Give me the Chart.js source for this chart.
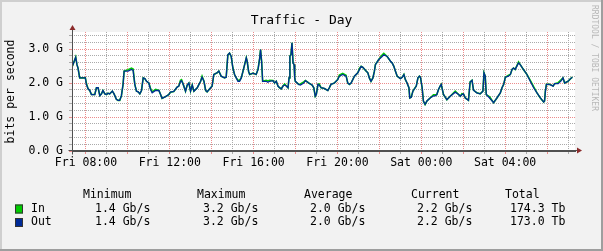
<!DOCTYPE html>
<html lang="en">
<head>
  <meta charset="UTF-8">
  <title>Traffic - Day</title>
  <!-- Chart.js -->
  <script src="https://cdn.jsdelivr.net/npm/chart.js"></script>
  <style>
    body { margin: 0; background: #f2f2f2; }
    canvas { display: block; }
  </style>
</head>
<body>
<canvas id="trafficChart" width="603" height="251"></canvas>

<script>
  // sample times, hours counted from Friday 00:00
  const times = [
    7.35, 7.51, 7.57, 7.62, 7.70, 7.97, 8.02, 8.10, 8.18, 8.26,
    8.42, 8.50, 8.58, 8.66, 8.74, 8.81, 8.90, 8.98, 9.05, 9.13,
    9.26, 9.34, 9.45, 9.53, 9.61, 9.69, 9.77, 9.82, 10.01, 10.17,
    10.25, 10.33, 10.41, 10.49, 10.57, 10.65, 10.73, 10.81, 10.89, 11.00,
    11.08, 11.16, 11.32, 11.48, 11.56, 11.63, 11.80, 11.95, 12.03, 12.19,
    12.35, 12.43, 12.51, 12.56, 12.64, 12.75, 12.83, 12.91, 12.99, 13.07,
    13.15, 13.31, 13.39, 13.47, 13.54, 13.63, 13.71, 13.78, 13.95, 14.02,
    14.10, 14.26, 14.34, 14.45, 14.61, 14.69, 14.77, 14.85, 14.93, 15.01,
    15.09, 15.17, 15.25, 15.33, 15.41, 15.49, 15.57, 15.65, 15.69, 15.76,
    15.81, 15.97, 16.12, 16.21, 16.29, 16.33, 16.38, 16.43, 16.60, 16.68,
    16.76, 16.92, 17.00, 17.08, 17.16, 17.24, 17.32, 17.40, 17.48, 17.56,
    17.64, 17.69, 17.73, 17.78, 17.83, 17.88, 17.93, 17.96, 17.99, 18.15,
    18.23, 18.39, 18.47, 18.63, 18.79, 18.87, 18.94, 18.99, 19.07, 19.13,
    19.22, 19.37, 19.54, 19.61, 19.69, 19.85, 20.01, 20.09, 20.25, 20.41,
    20.49, 20.57, 20.65, 20.81, 20.97, 21.05, 21.13, 21.21, 21.37, 21.45,
    21.52, 21.60, 21.69, 21.76, 21.81, 21.97, 22.13, 22.21, 22.37, 22.53,
    22.61, 22.69, 22.77, 22.85, 23.00, 23.09, 23.17, 23.24, 23.32, 23.41,
    23.45, 23.52, 23.60, 23.76, 23.84, 23.91, 23.96, 24.04, 24.10, 24.18,
    24.27, 24.42, 24.58, 24.66, 24.74, 24.82, 24.90, 24.95, 25.06, 25.22,
    25.38, 25.62, 25.78, 25.86, 25.94, 26.01, 26.10, 26.25, 26.33, 26.42,
    26.49, 26.65, 26.81, 26.94, 26.99, 27.05, 27.10, 27.26, 27.45, 27.61,
    27.77, 27.85, 27.93, 28.01, 28.16, 28.25, 28.33, 28.40, 28.48, 28.64,
    28.72, 28.88, 29.04, 29.20, 29.36, 29.52, 29.68, 29.84, 29.88, 29.92,
    29.97, 30.12, 30.29, 30.36, 30.53, 30.68, 30.76, 30.84, 31.00, 31.16,
    31.21
  ];

  // inbound traffic, Gbit/s
  const inValues = [
    2.49, 2.76, 2.54, 2.44, 2.15, 2.15, 1.99, 1.83, 1.78, 1.66,
    1.66, 1.86, 1.86, 1.63, 1.68, 1.78, 1.68, 1.66, 1.70, 1.68,
    1.76, 1.68, 1.52, 1.49, 1.49, 1.62, 1.96, 2.35, 2.39, 2.44,
    2.41, 1.96, 1.76, 1.74, 1.68, 1.78, 2.15, 2.13, 2.05, 2.00,
    1.84, 1.74, 1.81, 1.78, 1.66, 1.55, 1.60, 1.66, 1.73, 1.75,
    1.88, 1.91, 2.08, 2.10, 1.96, 1.76, 1.94, 2.00, 1.76, 1.94,
    1.76, 1.86, 1.96, 2.05, 2.20, 2.05, 1.78, 1.74, 1.86, 1.91,
    2.25, 2.30, 2.35, 2.20, 2.15, 2.17, 2.83, 2.88, 2.78, 2.44,
    2.25, 2.15, 2.08, 2.08, 2.15, 2.34, 2.54, 2.74, 2.64, 2.34,
    2.25, 2.29, 2.25, 2.40, 2.74, 2.98, 2.64, 2.05, 2.08, 2.06,
    2.08, 2.07, 2.00, 2.05, 1.91, 1.86, 1.83, 1.91, 1.97, 1.91,
    1.86, 2.15, 2.79, 2.83, 3.18, 2.59, 2.54, 2.15, 2.05, 1.96,
    1.97, 2.03, 2.07, 2.00, 1.94, 1.86, 1.61, 1.66, 1.96, 1.97,
    1.86, 1.84, 1.78, 1.86, 1.96, 2.00, 2.10, 2.23, 2.28, 2.23,
    2.00, 1.96, 2.00, 2.20, 2.30, 2.43, 2.49, 2.46, 2.35, 2.30,
    2.15, 2.05, 2.15, 2.34, 2.54, 2.69, 2.82, 2.87, 2.78, 2.64,
    2.59, 2.49, 2.34, 2.20, 2.13, 2.17, 2.25, 2.10, 2.00, 1.86,
    1.56, 1.58, 1.76, 1.91, 2.15, 2.20, 2.17, 1.86, 1.47, 1.37,
    1.47, 1.56, 1.65, 1.65, 1.66, 1.81, 1.91, 1.96, 1.66, 1.51,
    1.61, 1.76, 1.66, 1.61, 1.69, 1.68, 1.56, 1.49, 2.03, 2.08,
    1.79, 1.71, 1.68, 1.76, 2.30, 2.20, 1.66, 1.59, 1.42, 1.56,
    1.71, 1.86, 1.96, 2.17, 2.23, 2.25, 2.40, 2.44, 2.40, 2.62,
    2.54, 2.39, 2.25, 2.08, 1.89, 1.71, 1.56, 1.44, 1.47, 1.76,
    1.96, 1.96, 1.91, 1.98, 2.01, 2.10, 2.15, 2.00, 2.05, 2.15,
    2.17
  ];

  // outbound traffic, Gbit/s
  const outValues = [
    2.49, 2.76, 2.54, 2.44, 2.15, 2.15, 1.96, 1.83, 1.78, 1.66,
    1.66, 1.86, 1.86, 1.63, 1.68, 1.78, 1.68, 1.66, 1.70, 1.68,
    1.76, 1.68, 1.52, 1.49, 1.49, 1.62, 1.96, 2.35, 2.35, 2.40,
    2.37, 1.96, 1.76, 1.74, 1.68, 1.78, 2.15, 2.13, 2.05, 2.00,
    1.81, 1.71, 1.78, 1.78, 1.66, 1.55, 1.60, 1.66, 1.73, 1.75,
    1.88, 1.91, 2.05, 2.07, 1.96, 1.76, 1.94, 2.00, 1.76, 1.94,
    1.76, 1.86, 1.96, 2.05, 2.17, 2.05, 1.78, 1.74, 1.86, 1.91,
    2.25, 2.30, 2.35, 2.20, 2.15, 2.17, 2.83, 2.88, 2.78, 2.44,
    2.25, 2.15, 2.05, 2.05, 2.15, 2.34, 2.54, 2.74, 2.64, 2.34,
    2.25, 2.29, 2.25, 2.40, 2.74, 2.98, 2.64, 2.05, 2.05, 2.02,
    2.05, 2.07, 2.00, 2.05, 1.91, 1.86, 1.83, 1.91, 1.94, 1.91,
    1.86, 2.15, 2.79, 2.83, 3.18, 2.59, 2.54, 2.15, 2.05, 1.96,
    1.94, 2.00, 2.07, 2.00, 1.94, 1.86, 1.61, 1.66, 1.96, 1.94,
    1.86, 1.84, 1.78, 1.86, 1.96, 2.00, 2.10, 2.20, 2.25, 2.20,
    2.00, 1.96, 2.00, 2.20, 2.30, 2.40, 2.49, 2.46, 2.35, 2.30,
    2.15, 2.05, 2.15, 2.34, 2.54, 2.69, 2.78, 2.83, 2.78, 2.64,
    2.59, 2.49, 2.34, 2.20, 2.13, 2.17, 2.25, 2.10, 2.00, 1.86,
    1.56, 1.58, 1.76, 1.91, 2.15, 2.20, 2.17, 1.86, 1.47, 1.37,
    1.47, 1.56, 1.62, 1.62, 1.66, 1.81, 1.91, 1.96, 1.66, 1.51,
    1.61, 1.73, 1.66, 1.61, 1.66, 1.68, 1.56, 1.49, 2.03, 2.08,
    1.79, 1.71, 1.68, 1.76, 2.30, 2.20, 1.66, 1.56, 1.42, 1.56,
    1.71, 1.86, 1.96, 2.17, 2.20, 2.25, 2.40, 2.44, 2.40, 2.59,
    2.54, 2.39, 2.25, 2.05, 1.86, 1.71, 1.56, 1.44, 1.47, 1.76,
    1.96, 1.96, 1.91, 1.98, 1.98, 2.07, 2.15, 2.00, 2.05, 2.15,
    2.17
  ];

  // axis labels
  const xTickHours = [8, 12, 16, 20, 24, 28];
  const xTickLabels = ['Fri 08:00', 'Fri 12:00', 'Fri 16:00', 'Fri 20:00', 'Sat 00:00', 'Sat 04:00'];
  const yTickLabels = ['0.0 G', '1.0 G', '2.0 G', '3.0 G'];

  // legend table under the graph
  const legendHeaders = ['Minimum', 'Maximum', 'Average', 'Current', 'Total'];
  const seriesNames = ['In', 'Out'];
  const inStats = ['1.4 Gb/s', '3.2 Gb/s', '2.0 Gb/s', '2.2 Gb/s', '174.3 Tb'];
  const outStats = ['1.4 Gb/s', '3.2 Gb/s', '2.0 Gb/s', '2.2 Gb/s', '173.0 Tb'];

  const IN_COLOR = '#00cc00';
  const OUT_COLOR = '#002a97';
  const GRID = '#aaaaaa';
  const MGRID = '#ec8c8c';
  const MONO = '"DejaVu Sans Mono", monospace';

  const isWhole = (v, step) => Math.abs(v / step - Math.round(v / step)) < 1e-6;

  // dotted grid: a one-pixel-on / one-pixel-off pattern used as the line colour
  function dots(color, vertical) {
    const c = document.createElement('canvas');
    c.width = vertical ? 1 : 2;
    c.height = vertical ? 2 : 1;
    const g = c.getContext('2d');
    g.fillStyle = color;
    g.fillRect(0, 0, 1, 1);
    return g.createPattern(c, 'repeat');
  }
  const xMinor = dots(GRID, true), xMajor = dots(MGRID, true);
  const yMinor = dots(GRID, false), yMajor = dots(MGRID, false);

  // grid positions: every hour on x, every 0.2 G on y
  const hourTicks = [];
  for (let h = 8; h <= 31; h++) hourTicks.push(h);
  const gTicks = [];
  for (let k = 0; k <= 17; k++) gTicks.push(k / 5);

  // rrdtool look: frame, canvas, arrows, title, legend
  const rrdLook = {
    id: 'rrdLook',
    beforeDraw(chart) {
      const { ctx, chartArea: a, width: w, height: h } = chart;
      ctx.save();
      ctx.fillStyle = '#f2f2f2';
      ctx.fillRect(0, 0, w, h);
      ctx.fillStyle = '#cfcfcf';
      ctx.fillRect(0, 0, w, 2);
      ctx.fillRect(0, 0, 2, h);
      ctx.fillStyle = '#9e9e9e';
      ctx.fillRect(0, h - 2, w, 2);
      ctx.fillRect(w - 2, 0, 2, h);
      ctx.fillStyle = '#ffffff';
      ctx.fillRect(a.left, a.top, a.right - a.left, a.bottom - a.top);
      ctx.restore();
    },
    afterDraw(chart) {
      const { ctx, chartArea: a, width: w } = chart;
      const x0 = a.left + 0.5, y0 = a.bottom - 0.5;
      ctx.save();

      // axis lines running past the canvas, with arrows
      ctx.strokeStyle = '#505050';
      ctx.lineWidth = 1;
      ctx.beginPath();
      ctx.moveTo(x0 - 4, y0); ctx.lineTo(a.right + 3, y0);
      ctx.moveTo(x0, y0 + 4); ctx.lineTo(x0, a.top - 3);
      ctx.stroke();
      ctx.fillStyle = '#8b2b2b';
      ctx.beginPath();
      ctx.moveTo(a.right + 2, y0 - 3); ctx.lineTo(a.right + 7, y0); ctx.lineTo(a.right + 2, y0 + 3);
      ctx.closePath(); ctx.fill();
      ctx.beginPath();
      ctx.moveTo(x0 - 3, a.top - 2); ctx.lineTo(x0, a.top - 7); ctx.lineTo(x0 + 3, a.top - 2);
      ctx.closePath(); ctx.fill();

      // title
      ctx.fillStyle = '#000';
      ctx.font = '13px ' + MONO;
      ctx.textAlign = 'center';
      ctx.textBaseline = 'middle';
      ctx.fillText('Traffic - Day', w / 2, 21);

      // vertical unit label
      ctx.save();
      ctx.translate(11, (a.top + a.bottom) / 2);
      ctx.rotate(-Math.PI / 2);
      ctx.font = '11.5px ' + MONO;
      ctx.fillText('bits per second', 0, 0);
      ctx.restore();

      // watermark
      ctx.save();
      ctx.translate(594, 5);
      ctx.rotate(Math.PI / 2);
      ctx.textAlign = 'left';
      ctx.fillStyle = '#b8b8b8';
      ctx.font = '8px ' + MONO;
      ctx.fillText('RRDTOOL / TOBI OETIKER', 0, 0);
      ctx.restore();

      // legend table
      const headX = [83, 197, 304, 411, 505];
      const valX = [95, 203, 310, 417, 510];
      const rowY = [209, 222.5];
      ctx.font = '11.5px ' + MONO;
      ctx.textAlign = 'left';
      legendHeaders.forEach((t, i) => ctx.fillText(t, headX[i], 195.5));
      [inStats, outStats].forEach((stats, r) => {
        ctx.fillStyle = r === 0 ? IN_COLOR : OUT_COLOR;
        ctx.fillRect(15, rowY[r] - 4.5, 8, 9);
        ctx.strokeStyle = '#333';
        ctx.strokeRect(15.5, rowY[r] - 4, 7, 8);
        ctx.fillStyle = '#000';
        ctx.fillText(seriesNames[r], 31, rowY[r]);
        stats.forEach((t, i) => ctx.fillText(t, valX[i], rowY[r]));
      });
      ctx.restore();
    }
  };

  const ctxTraffic = document.getElementById('trafficChart').getContext('2d');
  const trafficChart = new Chart(ctxTraffic, {
    type: 'line',
    data: {
      datasets: [{
        label: 'In',
        data: times.map((t, i) => ({ x: t, y: inValues[i] })),
        borderColor: IN_COLOR,
        borderWidth: 1.6,
        pointRadius: 0,
        fill: false,
        order: 2
      },
      {
        label: 'Out',
        data: times.map((t, i) => ({ x: t, y: outValues[i] })),
        borderColor: OUT_COLOR,
        borderWidth: 1.3,
        pointRadius: 0,
        fill: false,
        order: 1
      }]
    },
    options: {
      responsive: false,
      animation: false,
      devicePixelRatio: 1,
      layout: { padding: { top: 32, right: 28, bottom: 80, left: 0 } },
      plugins: {
        legend: { display: false },
        tooltip: { enabled: false }
      },
      scales: {
        x: {
          type: 'linear',
          min: 7 + 1 / 3,
          max: 31 + 1 / 3,
          afterFit(scale) { scale.height = 20; },
          afterBuildTicks(scale) { scale.ticks = hourTicks.map(v => ({ value: v })); },
          border: { display: true, color: '#505050' },
          grid: {
            color: c => (c.tick && isWhole(c.tick.value, 2)) ? xMajor : xMinor,
            tickColor: c => (c.tick && isWhole(c.tick.value, 2)) ? MGRID : GRID,
            tickLength: 3,
            lineWidth: 1
          },
          ticks: {
            autoSkip: false,
            maxRotation: 0,
            padding: 2,
            color: '#000',
            font: { family: 'DejaVu Sans Mono', size: 11.5 },
            callback: v => {
              const k = xTickHours.indexOf(Math.round(v));
              return (k >= 0 && isWhole(v, 1)) ? xTickLabels[k] : '';
            }
          }
        },
        y: {
          min: 0,
          max: 3.5,
          afterFit(scale) { scale.width = 72; },
          afterBuildTicks(scale) { scale.ticks = gTicks.map(v => ({ value: v })); },
          border: { display: true, color: '#505050' },
          grid: {
            color: c => (c.tick && isWhole(c.tick.value, 1)) ? yMajor : yMinor,
            tickColor: c => (c.tick && isWhole(c.tick.value, 1)) ? MGRID : GRID,
            tickLength: 3,
            lineWidth: 1
          },
          ticks: {
            autoSkip: false,
            padding: 6,
            color: '#000',
            font: { family: 'DejaVu Sans Mono', size: 11.5 },
            callback: v => isWhole(v, 1) ? yTickLabels[Math.round(v)] : ''
          }
        }
      }
    },
    plugins: [rrdLook]
  });
</script>
</body>
</html>
